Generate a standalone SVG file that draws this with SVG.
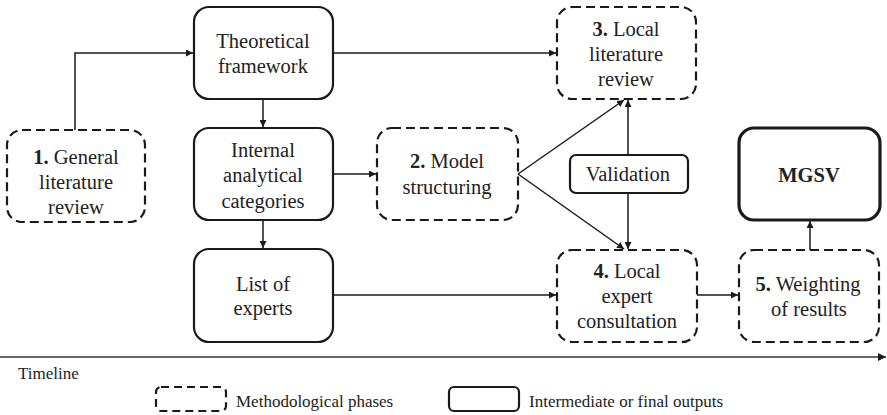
<svg xmlns="http://www.w3.org/2000/svg" width="887" height="415" viewBox="0 0 887 415">
  <style>
    .phase { fill: none; stroke: #1a1a1a; stroke-width: 2.2; stroke-dasharray: 9 5; }
    .output { fill: none; stroke: #1a1a1a; stroke-width: 2.2; }
    .final { fill: none; stroke: #1a1a1a; stroke-width: 3.2; }
    .link { fill: none; stroke: #1a1a1a; stroke-width: 1.5; marker-end: url(#arrow); }
  </style>
  <defs>
    <marker id="arrow" viewBox="0 0 10 10" refX="10" refY="5" markerWidth="7" markerHeight="7" orient="auto" markerUnits="userSpaceOnUse">
      <path d="M0,0 L10,5 L0,10 z" fill="#1a1a1a"/>
    </marker>
    <marker id="arrowBig" viewBox="0 0 10 10" refX="10" refY="5" markerWidth="10" markerHeight="8" orient="auto" markerUnits="userSpaceOnUse">
      <path d="M0,0 L10,5 L0,10 z" fill="#1a1a1a"/>
    </marker>
  </defs>
  <rect width="887" height="415" fill="#ffffff"/>

  <g id="connectors">
    <path class="link" d="M75,130 V53 H193"/>
    <path class="link" d="M333,53 H556"/>
    <path class="link" d="M263,99 V127"/>
    <path class="link" d="M263,220 V248"/>
    <path class="link" d="M333,174 H376"/>
    <path class="link" d="M518,174 L624,100"/>
    <path class="link" d="M518,174 L624,249"/>
    <path class="link" d="M628,155 V100"/>
    <path class="link" d="M628,193 V249"/>
    <path class="link" d="M333,295 H556"/>
    <path class="link" d="M697,295 H738"/>
    <path class="link" d="M810,250 V221"/>
  </g>

  <!-- labels are left-anchored at positions computed from Times metrics at 20.5px -->
  <g id="general-review">
    <rect class="phase" x="7" y="130" width="138" height="92" rx="15"/>
    <text x="33.3" y="164" fill="#222" style="font-family:'Liberation Serif',serif;font-size:20.5px"><tspan style="font-weight:bold">1.</tspan> General</text>
    <text x="39" y="189" fill="#222" style="font-family:'Liberation Serif',serif;font-size:20.5px">literature</text>
    <text x="48.1" y="214" fill="#222" style="font-family:'Liberation Serif',serif;font-size:20.5px">review</text>
  </g>

  <g id="theoretical-framework">
    <rect class="output" x="194" y="7" width="139" height="92" rx="15"/>
    <text x="216.3" y="48" fill="#222" style="font-family:'Liberation Serif',serif;font-size:20.5px">Theoretical</text>
    <text x="218" y="73" fill="#222" style="font-family:'Liberation Serif',serif;font-size:20.5px">framework</text>
  </g>

  <g id="internal-categories">
    <rect class="output" x="194" y="128" width="139" height="92" rx="15"/>
    <text x="231.1" y="157" fill="#222" style="font-family:'Liberation Serif',serif;font-size:20.5px">Internal</text>
    <text x="223.1" y="182" fill="#222" style="font-family:'Liberation Serif',serif;font-size:20.5px">analytical</text>
    <text x="221.4" y="208" fill="#222" style="font-family:'Liberation Serif',serif;font-size:20.5px">categories</text>
  </g>

  <g id="list-experts">
    <rect class="output" x="194" y="249" width="139" height="93" rx="15"/>
    <text x="235.9" y="291" fill="#222" style="font-family:'Liberation Serif',serif;font-size:20.5px">List of</text>
    <text x="233.4" y="315" fill="#222" style="font-family:'Liberation Serif',serif;font-size:20.5px">experts</text>
  </g>

  <g id="model-structuring">
    <rect class="phase" x="377" y="128" width="141" height="92" rx="15"/>
    <text x="410" y="168" fill="#222" style="font-family:'Liberation Serif',serif;font-size:20.5px"><tspan style="font-weight:bold">2.</tspan> Model</text>
    <text x="402.6" y="194" fill="#222" style="font-family:'Liberation Serif',serif;font-size:20.5px">structuring</text>
  </g>

  <g id="local-review">
    <rect class="phase" x="557" y="7" width="139" height="92" rx="15"/>
    <text x="592.4" y="36" fill="#222" style="font-family:'Liberation Serif',serif;font-size:20.5px"><tspan style="font-weight:bold">3.</tspan> Local</text>
    <text x="589" y="61" fill="#222" style="font-family:'Liberation Serif',serif;font-size:20.5px">literature</text>
    <text x="598.1" y="86" fill="#222" style="font-family:'Liberation Serif',serif;font-size:20.5px">review</text>
  </g>

  <g id="validation">
    <rect class="output" x="570" y="155" width="118" height="38" rx="6"/>
    <text x="585.7" y="181" fill="#222" style="font-family:'Liberation Serif',serif;font-size:20.5px">Validation</text>
  </g>

  <g id="expert-consultation">
    <rect class="phase" x="557" y="250" width="140" height="92" rx="15"/>
    <text x="593.4" y="278" fill="#222" style="font-family:'Liberation Serif',serif;font-size:20.5px"><tspan style="font-weight:bold">4.</tspan> Local</text>
    <text x="601.4" y="303" fill="#222" style="font-family:'Liberation Serif',serif;font-size:20.5px">expert</text>
    <text x="576.9" y="328" fill="#222" style="font-family:'Liberation Serif',serif;font-size:20.5px">consultation</text>
  </g>

  <g id="weighting">
    <rect class="phase" x="739" y="250" width="140" height="92" rx="15"/>
    <text x="755.5" y="291" fill="#222" style="font-family:'Liberation Serif',serif;font-size:20.5px"><tspan style="font-weight:bold">5.</tspan> Weighting</text>
    <text x="771.1" y="316" fill="#222" style="font-family:'Liberation Serif',serif;font-size:20.5px">of results</text>
  </g>

  <g id="mgsv">
    <rect class="final" x="739" y="128" width="141" height="92" rx="15"/>
    <text x="778.2" y="182" fill="#222" style="font-family:'Liberation Serif',serif;font-size:20.5px;font-weight:bold">MGSV</text>
  </g>

  <g id="timeline">
    <line x1="0" y1="357" x2="886" y2="357" stroke="#333" stroke-width="1.6" marker-end="url(#arrowBig)"/>
    <text x="18" y="379" fill="#222" style="font-family:'Liberation Serif',serif;font-size:17px">Timeline</text>
  </g>

  <g id="legend">
    <rect class="phase" x="156" y="387" width="70" height="24" rx="5" style="stroke-dasharray: 8 5"/>
    <text x="236" y="407" fill="#222" style="font-family:'Liberation Serif',serif;font-size:17px">Methodological phases</text>
    <rect class="output" x="449" y="387" width="70" height="24" rx="5"/>
    <text x="529" y="407" fill="#222" style="font-family:'Liberation Serif',serif;font-size:17px">Intermediate or final outputs</text>
  </g>
</svg>
